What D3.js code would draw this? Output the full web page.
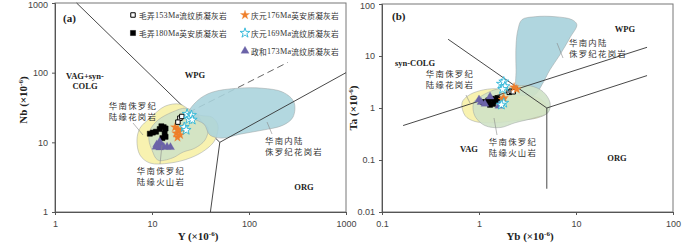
<!DOCTYPE html>
<html><head><meta charset="utf-8">
<script src="https://cdn.jsdelivr.net/npm/d3@7"></script>
<style>
body{margin:0;background:#fff;}
svg{display:block;}
.tick text{font-family:"Liberation Sans",Arial,sans-serif;font-size:9px;fill:#444;}
.cn{font-family:"Noto Sans CJK SC",sans-serif;fill:#333;}
.fld{font-family:"Liberation Serif","Times New Roman",serif;font-weight:bold;font-size:8.5px;fill:#222;}
.ttl{font-family:"Liberation Serif","Times New Roman",serif;font-weight:bold;font-size:11px;fill:#222;}
</style></head><body>
<script>
// ---------- Data (a) Nb vs Y ----------
const aTicks = [1,10,100,1000];
const a_mn153 = [[19.4,22.2],[18.5,19.5],[20.3,23.5]];
const a_mn180 = [[9.5,13.3],[10.2,13.8],[11,14.2],[12,15.5],[12.5,17],[13.2,16.5],[13.8,15.8],[13.5,13.5],[13.8,12],[12.8,11.5]];
const a_qy176 = [[17.3,16.5],[18.5,15],[17.8,13.5],[18.3,11.8],[20.5,15.5],[19.5,12.8]];
const a_qy169 = [[23,25.5],[25.5,24.5],[24,21.5],[26,21],[21.5,16.5],[22.5,15]];
const a_zh173 = [[11.2,9.3],[12,10.2],[12.4,9.2],[13.2,8.6],[12,8.4],[14.3,8.6],[15.5,8.5],[11,8.6]];
const a_polyGranite = [[7.52,16.0],[9.53,22.2],[13.6,33.0],[19.4,35.3],[24.6,28.9],[31.3,24.5],[41.6,23.0],[47.9,17.6],[44.6,10.8],[35.2,7.73],[24.6,5.94],[15.3,5.04],[9.53,5.04],[7.52,6.56],[7.0,10.8]];
const a_polyVolc = [[9.53,14.9],[11.5,20.8],[16.1,27.1],[22.4,30.9],[28.4,26.2],[32.8,19.5],[37.8,16.0],[35.2,10.8],[27.7,8.26],[20.9,7.24],[16.1,5.94],[11.5,5.56],[10.0,7.73],[9.3,10.8]];
const a_polyInland = [[24.1,27.1],[29.8,40.3],[41.6,52.4],[77.1,59.8],[136,59.8],[224,52.4],[291,37.7],[284,23.0],[224,17.6],[136,14.9],[80.8,13.1],[52.7,11.5],[39.6,12.7],[34.4,18.2],[26.5,22.2]];
const a_lineVagWpg = [[1.67,1000],[50,10]];
const a_lineOrgWpg = [[50,10],[1000,100]];
const a_lineVagOrg = [[50,10],[40,1]];
const a_lineDash = [[24,27],[250,140]];

// ---------- Data (b) Ta vs Yb ----------
const bxTicks = [0.1,1,10,100];
const byTicks = [0.01,0.1,1,10,100];
const b_mn153 = [[2.05,2.0],[2.15,2.1],[2.25,2.05]];
const b_mn180 = [[1.1,1.3],[1.2,1.25],[1.25,1.4],[1.35,1.5],[1.45,1.45],[1.5,1.35],[1.4,1.2],[1.3,1.15],[1.55,1.55]];
const b_qy176 = [[2.3,2.5],[2.45,2.3],[1.75,1.45],[1.8,1.55]];
const b_qy169 = [[1.7,2.9],[1.8,3.2],[1.85,2.6],[1.75,2.3],[1.8,1.25],[1.7,1.15]];
const b_zh173 = [[1.0,1.45],[1.05,1.3],[1.3,1.65],[1.6,1.1],[1.15,1.2]];
const b_polyInland = [[2.52,32.0],[2.77,49.9],[3.78,57.0],[6.08,57.0],[9.1,49.9],[10.2,40.0],[8.67,22.5],[6.84,10.6],[5.40,5.46],[4.46,2.81],[3.78,1.80],[2.98,1.65],[2.46,2.06],[2.41,5.46],[2.41,16.5]];
const b_polyGranite = [[0.668,1.26],[0.77,1.72],[1.02,2.15],[1.46,2.35],[1.85,2.15],[2.35,1.80],[3.78,1.65],[4.79,1.26],[5.02,0.81],[4.06,0.65],[2.35,0.57],[1.46,0.52],[0.91,0.55],[0.72,0.71]];
const b_polyVolc = [[0.89,1.32],[1.07,1.72],[1.46,2.25],[2.19,2.57],[3.36,2.68],[4.57,2.06],[5.40,1.26],[5.14,0.81],[3.78,0.65],[2.35,0.52],[1.65,0.42],[1.15,0.46],[0.93,0.65],[0.87,0.93]];
const b_lineSynWpg = [[0.48,21],[5,1]];
const b_lineVag = [[0.165,0.46],[54,14.7]];
const b_lineWpgOrg = [[5,1],[54,4.2]];
const b_lineVagOrg = [[5,1],[5,0.028]];

const legendItems = [
  {t:"毛弄153Ma流纹质凝灰岩", s:"osq"},
  {t:"毛弄180Ma英安质凝灰岩", s:"fsq"},
  {t:"庆元176Ma英安质凝灰岩", s:"ostar"},
  {t:"庆元169Ma流纹质凝灰岩", s:"cstar"},
  {t:"政和173Ma流纹质凝灰岩", s:"tri"}
];

const C = {inland:"#a9d3dc", granite:"#f8f1ac", volc:"#cfe2c6", edge:"#9aa0a0",
  orange:"#ef7f2c", cyan:"#2bb6d8", purple:"#6b63a8"};

const svg = d3.select("body").append("svg").attr("width",700).attr("height",247);

function sym(g, pts, type, sx, sy){
  const gen = {
    osq: d3.symbol().type(d3.symbolSquare).size(20),
    fsq: d3.symbol().type(d3.symbolSquare).size(26),
    ostar: d3.symbol().type(d3.symbolStar).size(26),
    cstar: d3.symbol().type(d3.symbolStar).size(30),
    tri: d3.symbol().type(d3.symbolTriangle).size(28)
  }[type];
  const style = {
    osq:{fill:"#fff",stroke:"#000",sw:1},
    fsq:{fill:"#000",stroke:"#000",sw:0.5},
    ostar:{fill:C.orange,stroke:C.orange,sw:0.3},
    cstar:{fill:"#fff",stroke:C.cyan,sw:0.9},
    tri:{fill:C.purple,stroke:C.purple,sw:0.3}
  }[type];
  g.selectAll(null).data(pts).enter().append("path")
    .attr("d",gen)
    .attr("transform",d=>`translate(${sx?sx(d[0]):d[0]},${sy?sy(d[1]):d[1]})`)
    .attr("fill",style.fill).attr("stroke",style.stroke).attr("stroke-width",style.sw);
}

function panel(o){
  const g = svg.append("g");
  const x = d3.scaleLog().domain(o.xd).range(o.xr);
  const y = d3.scaleLog().domain(o.yd).range(o.yr);
  const ln = d3.line().x(d=>x(d[0])).y(d=>y(d[1]));
  const poly = d3.line().x(d=>x(d[0])).y(d=>y(d[1])).curve(d3.curveCatmullRomClosed.alpha(0.5));
  g.append("rect").attr("x",o.xr[0]).attr("y",o.yr[1]).attr("width",o.xr[1]-o.xr[0]).attr("height",o.yr[0]-o.yr[1])
    .attr("fill","none").attr("stroke","#777").attr("stroke-width",1);
  (o.under||[]).forEach(l=>{
    g.append("path").attr("d",ln(l.d)).attr("fill","none").attr("stroke",l.c||"#333").attr("stroke-width",0.9)
     .attr("stroke-dasharray",l.dash||null);
  });
  o.polys.forEach(p=>{
    g.append("path").attr("d",poly(p.d)).attr("fill",p.f).attr("fill-opacity",p.op||0.9)
      .attr("stroke",C.edge).attr("stroke-width",0.5);
  });
  (o.over||[]).forEach(l=>{
    g.append("path").attr("d",ln(l.d)).attr("fill","none").attr("stroke",l.c||"#333").attr("stroke-width",0.9)
     .attr("stroke-dasharray",l.dash||null);
  });
  const ax = g.append("g").attr("transform",`translate(0,${o.yr[0]})`)
    .call(d3.axisBottom(x).tickValues(o.xt).tickFormat(d=>String(d)).tickSize(3).tickPadding(6));
  const ay = g.append("g").attr("transform",`translate(${o.xr[0]},0)`)
    .call(d3.axisLeft(y).tickValues(o.yt).tickFormat(d=>String(d)).tickSize(3).tickPadding(4));
  [ax,ay].forEach(a=>{a.select(".domain").attr("stroke","#555");a.selectAll(".tick line").attr("stroke","#555");});
  // keep the top tick label inside the picture
  ay.selectAll(".tick text").filter(d=>y(d)<6).attr("y",2);
  o.series.forEach(s=>sym(g,s.d,s.s,x,y));
  return {g,x,y};
}

const A = panel({
  xd:[1,1000], xr:[55,346], yd:[1,1000], yr:[212,3], xt:aTicks, yt:aTicks,
  under:[{d:a_lineVagWpg},{d:a_lineDash,c:"#555",dash:"7,4"}],
  polys:[{d:a_polyGranite,f:C.granite,op:0.95},{d:a_polyVolc,f:C.volc,op:0.9},{d:a_polyInland,f:C.inland,op:0.88}],
  over:[{d:a_lineOrgWpg},{d:a_lineVagOrg}],
  series:[{d:a_mn180,s:"fsq"},{d:a_zh173,s:"tri"},{d:a_qy176,s:"ostar"},{d:a_mn153,s:"osq"},{d:a_qy169,s:"cstar"}]
});
const B = panel({
  xd:[0.1,100], xr:[382,673], yd:[0.01,100], yr:[212,4], xt:bxTicks, yt:byTicks,
  under:[],
  polys:[{d:b_polyInland,f:C.inland,op:0.92},{d:b_polyGranite,f:C.granite,op:0.95},{d:b_polyVolc,f:C.volc,op:0.9}],
  over:[{d:b_lineSynWpg},{d:b_lineVag},{d:b_lineWpgOrg},{d:b_lineVagOrg}],
  series:[{d:b_mn180,s:"fsq"},{d:b_zh173,s:"tri"},{d:b_mn153,s:"osq"},{d:b_qy176,s:"ostar"},{d:b_qy169,s:"cstar"}]
});

function txt(x,y,s,cls,size,anchor){
  return svg.append("text").attr("x",x).attr("y",y).attr("class",cls).attr("font-size",size)
    .attr("text-anchor",anchor||"start").attr("dominant-baseline","central").text(s);
}
function cn2(x,y,l1,l2,anchor){
  const t = svg.append("text").attr("class","cn").attr("font-size",8.4).attr("letter-spacing",1.3)
    .attr("text-anchor",anchor||"start");
  t.append("tspan").attr("x",x).attr("y",y+3).text(l1);
  t.append("tspan").attr("x",x).attr("dy",11).text(l2);
}
function leader(x1,y1,x2,y2){
  svg.append("line").attr("x1",x1).attr("y1",y1).attr("x2",x2).attr("y2",y2).attr("stroke","#888").attr("stroke-width",0.6);
}
function title(x,y,name,rot){
  const t = svg.append("text").attr("class","ttl").attr("text-anchor","middle")
    .attr("transform",`translate(${x},${y})`+(rot?" rotate(-90)":""));
  t.append("tspan").text(name+" (×10");
  t.append("tspan").attr("dy",-4).attr("font-size",7).text("-6");
  t.append("tspan").attr("dy",4).text(")");
}

// panel a annotations
txt(63,18,"(a)","ttl",11).attr("font-weight","normal");
txt(85,76,"VAG+syn-","fld",8.5,"middle");
txt(85,86,"COLG","fld",8.5,"middle");
txt(195,75,"WPG","fld",8.5,"middle");
txt(304,187,"ORG","fld",8.5,"middle");
cn2(133,106,"华南侏罗纪","陆缘花岗岩","middle");
leader(133,123,143,135);
cn2(161,171,"华南侏罗纪","陆缘火山岩","middle");
leader(160,164,162,145);
cn2(265,141,"华南内陆","侏罗纪花岗岩","start");
leader(272,134,267,122);
title(198,240,"Y",false);
title(27,100,"Nb",true);

// legend
legendItems.forEach((it,i)=>{
  const col = i<2?0:1, row = i<2?i:i-2;
  const sx = col===0?133:245, sy = 15+row*18;
  sym(svg,[[sx,sy]],it.s,null,null);
  const m = it.t.match(/^(\D+)(\d+Ma)(.+)$/);
  const t = svg.append("text").attr("x",sx+6).attr("y",sy).attr("dominant-baseline","central")
    .attr("font-size",7.7).attr("class","cn").attr("letter-spacing",0.25);
  t.append("tspan").text(m[1]);
  t.append("tspan").attr("font-family","Liberation Serif,serif").attr("font-size",8.2).text(m[2]);
  t.append("tspan").text(m[3]);
});

// panel b annotations
txt(392,16,"(b)","ttl",11).attr("font-weight","normal");
txt(415,63,"syn-COLG","fld",8.5,"middle");
cn2(450,74,"华南侏罗纪","陆缘花岗岩","middle");
leader(466,95,470,103);
txt(625,29,"WPG","fld",8.5,"middle");
cn2(569,43,"华南内陆","侏罗纪花岗岩","start");
leader(557,43,563,58);
txt(469,149,"VAG","fld",8.5,"middle");
cn2(513,142,"华南侏罗纪","陆缘火山岩","middle");
leader(494,118,497,135);
txt(617,158,"ORG","fld",8.5,"middle");
title(530,240,"Yb",false);
title(357,108,"Ta",true);
</script>
</body></html>
